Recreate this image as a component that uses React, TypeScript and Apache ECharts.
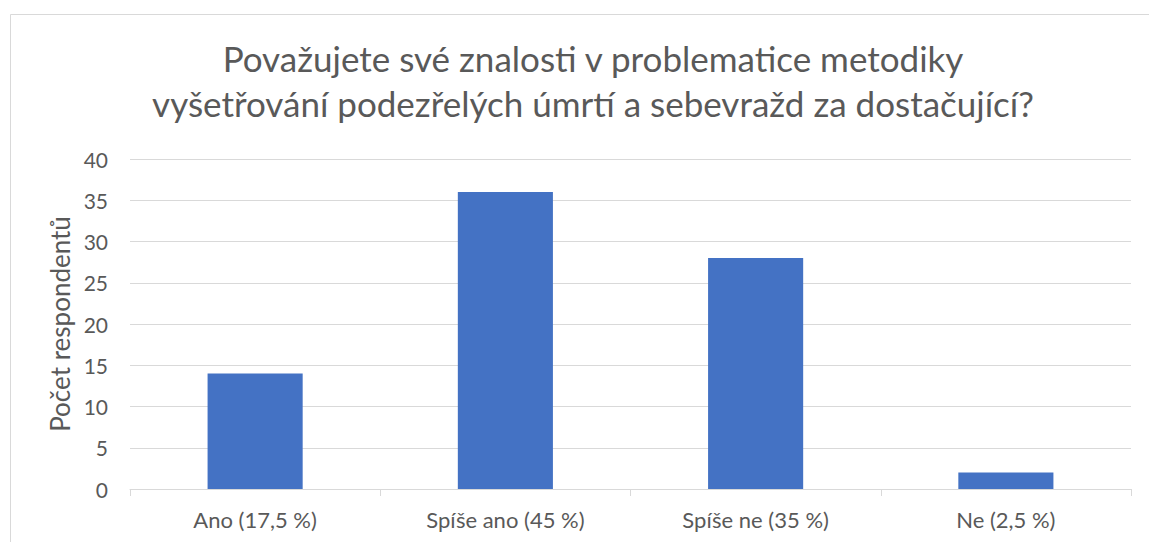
import React, { useEffect, useRef } from "react";
import * as echarts from "echarts";

const categories = ["Ano (17,5 %)", "Spíše ano (45 %)", "Spíše ne (35 %)", "Ne (2,5 %)"];
const values = [14, 36, 28, 2];
const titleLines = [
  "Považujete své znalosti v problematice metodiky",
  "vyšetřování podezřelých úmrtí a sebevražd za dostačující?",
];
const yAxisName = "Počet respondentů";

const FONT = "Lato, 'Open Sans', sans-serif";
const TEXT = "#595959";

export default function App() {
  const ref = useRef<HTMLDivElement>(null);
  useEffect(() => {
    const chart = echarts.init(ref.current!, undefined, { renderer: "svg" });
    chart.setOption({
      animation: false,
      backgroundColor: "#ffffff",
      graphic: [
        {
          type: "rect",
          shape: { x: 10.5, y: 14.5, width: 1200, height: 600 },
          style: { fill: "none", stroke: "#d9d9d9", lineWidth: 1 },
          silent: true,
        },
      ],
      title: {
        text: titleLines.join("\n"),
        left: 588,
        top: 30,
        textAlign: "center",
        textStyle: {
          fontFamily: FONT,
          fontSize: 35,
          fontWeight: "normal",
          color: TEXT,
          lineHeight: 45,
        },
      },
      grid: { left: 130, right: 18, top: 159, bottom: 53, containLabel: false },
      xAxis: {
        type: "category",
        data: categories,
        axisLine: { lineStyle: { color: "#d9d9d9", width: 1 } },
        axisTick: { show: true, length: 7, lineStyle: { color: "#d9d9d9" } },
        axisLabel: { fontFamily: FONT, fontSize: 22, color: TEXT, margin: 19 },
      },
      yAxis: {
        type: "value",
        min: 0,
        max: 40,
        interval: 5,
        name: yAxisName,
        nameLocation: "middle",
        nameGap: 56,
        nameTextStyle: { fontFamily: FONT, fontSize: 26, color: TEXT },
        axisLine: { show: false },
        axisTick: { show: false },
        axisLabel: { fontFamily: FONT, fontSize: 21, color: TEXT, margin: 22 },
        splitLine: { lineStyle: { color: "#d9d9d9", width: 1 } },
      },
      series: [
        {
          type: "bar",
          data: values,
          barWidth: "38%",
          itemStyle: { color: "#4472C4" },
        },
      ],
    });
    return () => chart.dispose();
  }, []);
  return (
    <div
      ref={ref}
      style={{ position: "fixed", left: 0, top: 0, width: 1149, height: 542 }}
    />
  );
}
